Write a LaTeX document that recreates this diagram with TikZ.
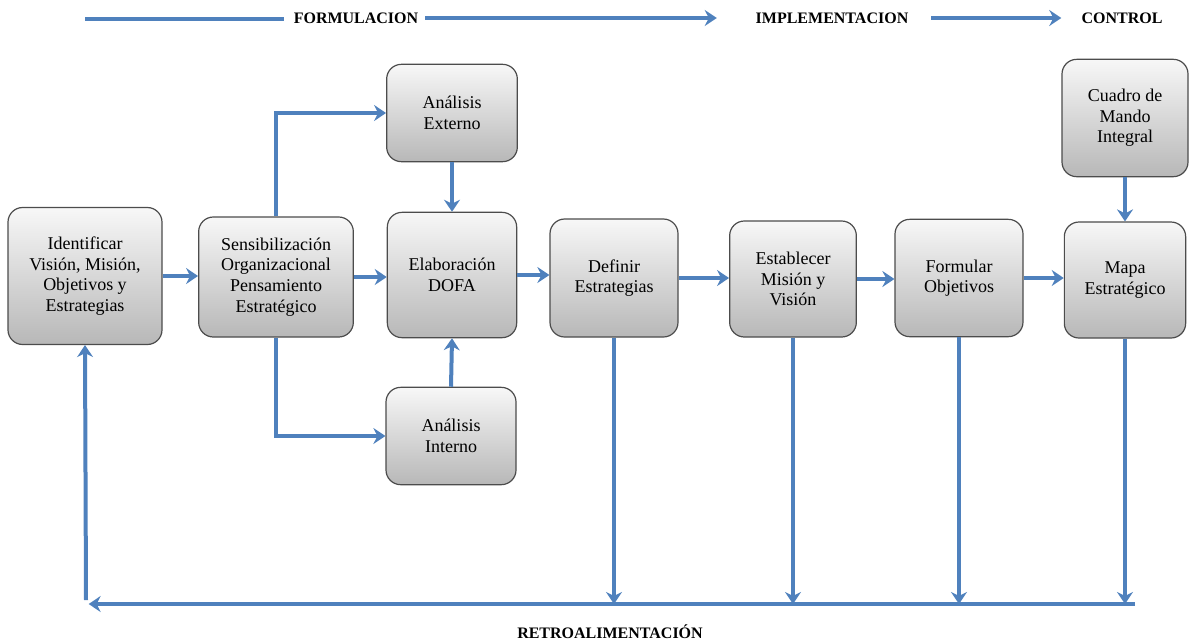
\documentclass[tikz,border=0pt]{standalone}
\usepackage{fontspec}
\setmainfont{Liberation Serif}
\usetikzlibrary{arrows.meta}
\begin{document}
\begin{tikzpicture}[x=0.75pt, y=-0.75pt,
        etapa/.style={draw=black!70, line width=0.9pt, rounded corners=11pt, top color=black!3, bottom color=black!28, align=center, inner sep=2pt, font=\fontsize{13.5}{15.5}\selectfont},
        flecha/.style={draw=lineblue, line width=3pt, -{Stealth[length=9pt, width=12pt, inset=3pt]}},
        linea/.style={draw=lineblue, line width=3pt},
        fase/.style={font=\bfseries\fontsize{12}{14}\selectfont, inner sep=1pt}]
\definecolor{lineblue}{RGB}{79,129,189}
\useasboundingbox (0,0) rectangle (1191,643);
\coordinate (ini) at (85,19);
\node[fase] (form) at (356,18) {FORMULACION};
\node[fase] (impl) at (832,18) {IMPLEMENTACION};
\node[fase] (ctrl) at (1122,18) {CONTROL};
\draw[linea] (ini) -- ([xshift=-6pt]form.west |- ini);
\draw[flecha] (form.east) ++(4pt,0) -- ([xshift=-28pt]impl.west);
\draw[flecha] ([xshift=16pt]impl.east) -- ([xshift=-14pt]ctrl.west);
\node[etapa, minimum width=115.5pt, minimum height=102.75pt] (ident) at (85,276) {Identificar\\Visión, Misión,\\Objetivos y\\Estrategias};
\node[etapa, minimum width=116pt, minimum height=90pt] (sensib) at (276,277) {Sensibilización\\Organizacional\\Pensamiento\\Estratégico};
\node[etapa, minimum width=98pt, minimum height=73pt] (externo) at (452,113) {Análisis\\Externo};
\node[etapa, minimum width=97pt, minimum height=94pt] (dofa) at (452,275) {Elaboración\\DOFA};
\node[etapa, minimum width=97.5pt, minimum height=73pt] (interno) at (451,436) {Análisis\\Interno};
\node[etapa, minimum width=96pt, minimum height=88.5pt] (definir) at (614,278) {Definir\\Estrategias};
\node[etapa, minimum width=95pt, minimum height=87pt] (establecer) at (793,279) {Establecer\\Misión y\\Visión};
\node[etapa, minimum width=96pt, minimum height=88pt] (formular) at (959,278) {Formular\\Objetivos};
\node[etapa, minimum width=91pt, minimum height=87pt] (mapa) at (1125,280) {Mapa\\Estratégico};
\node[etapa, minimum width=94.5pt, minimum height=88pt] (cuadro) at (1125,118) {Cuadro de\\Mando\\Integral};
\draw[flecha] (ident.east) -- (ident.east -| sensib.west);
\draw[flecha] (sensib.east) -- (sensib.east -| dofa.west);
\draw[flecha] (dofa.east) -- (dofa.east -| definir.west);
\draw[flecha] (definir.east) -- (definir.east -| establecer.west);
\draw[flecha] (establecer.east) -- (establecer.east -| formular.west);
\draw[flecha] (formular.east) -- (formular.east -| mapa.west);
\draw[flecha] (cuadro.south) -- (mapa.north);
\draw[flecha] (externo.south) -- (dofa.north);
\draw[flecha] (interno.north) -- (dofa.south);
\draw[flecha] (sensib.north) |- (externo.west);
\draw[flecha] (sensib.south) |- (interno.west);
\coordinate (esq) at (86,604);
\coordinate (fin) at (1135,604);
\draw[flecha] (definir.south) -- (definir.south |- esq);
\draw[flecha] (establecer.south) -- (establecer.south |- esq);
\draw[flecha] (formular.south) -- (formular.south |- esq);
\draw[flecha] (mapa.south) -- (mapa.south |- esq);
\draw[flecha] (fin) -- ([xshift=2pt]esq);
\draw[flecha] ([yshift=3pt]esq) -- (ident.south);
\node[fase] (retro) at (610,632) {RETROALIMENTACIÓN};
\end{tikzpicture}
\end{document}
